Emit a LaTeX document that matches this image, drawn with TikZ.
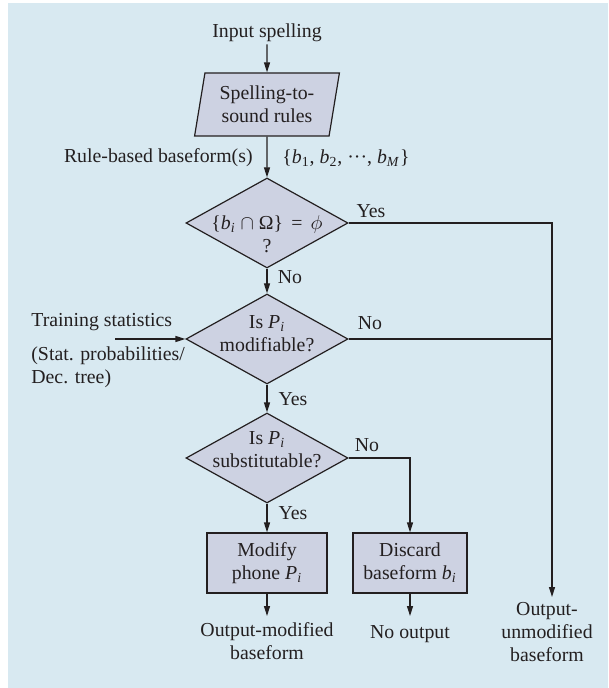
\documentclass[tikz,border=0pt]{standalone}
\usepackage{fontspec}
\setmainfont{Liberation Serif}
\usetikzlibrary{arrows.meta,positioning,shapes.geometric}
\definecolor{PaleBlue}{HTML}{D8E9F1}
\definecolor{Lavender}{HTML}{CDD2E2}
\definecolor{InkGray}{HTML}{231F20}
\newcommand{\vsub}[2]{\textit{#1}\textsubscript{#2}}
\newcommand{\intext}[2]{\makebox[0pt]{\raisebox{#1}[0pt][0pt]{\begin{tabular}{@{}c@{}}#2\end{tabular}}}}
\tikzset{
  io/.style={trapezium, trapezium left angle=78, trapezium right angle=102, trapezium stretches=true, draw=InkGray, fill=Lavender, line width=0.6pt, minimum width=72.5pt, minimum height=31.5pt, inner sep=0pt, align=center},
  decision/.style={diamond, draw=InkGray, fill=Lavender, line width=0.6pt, minimum width=81pt, minimum height=45pt, inner sep=0pt},
  procbox/.style={rectangle, draw=InkGray, fill=Lavender, line width=0.6pt, minimum height=30pt, inner sep=0pt, align=center},
  lbl/.style={inner sep=1pt, align=center},
  arrow/.style={-{Triangle[length=5pt,width=3pt]}, line width=0.6pt, draw=InkGray},
  line/.style={line width=0.6pt, draw=InkGray}
}
\begin{document}
\begin{tikzpicture}[
    x=0.5pt, y=-0.5pt,
    font=\fontsize{9.9}{11.6}\selectfont,
    text=InkGray
]
\useasboundingbox (0,0) rectangle (608,688);
\fill[PaleBlue] (8,3) rectangle (608,688);

% main column
\node[lbl] (inp) at (267,33) {Input spelling};
\node[io] (rules) at (267,104.5) {Spelling-to-\\sound rules};
\node[decision] (d1) at (267,223)
    {\intext{-9pt}{\{\vsub{b}{\textit{i}} $\cap$ Ω\}\ \,=\ \,$\phi$\\?}};
\node[decision] (d2) at (267,339)
    {\intext{-0.75pt}{Is \vsub{P}{\textit{i}}\\modifiable?}};
\node[decision] (d3) at (267,458)
    {\intext{0.75pt}{Is \vsub{P}{\textit{i}}\\substitutable?}};
\node[procbox, minimum width=60pt] (modify) at (267,563)
    {Modify\\phone \vsub{P}{\textit{i}}};
\node[procbox, minimum width=57pt] (discard) at (410,563)
    {Discard\\baseform \vsub{b}{\textit{i}}};

% side texts
\node[lbl, anchor=east] (rbase) at (255,158) {Rule-based baseform(s)};
\node[lbl, anchor=west] (bset) at (280,158)
    {\{\vsub{b}{1}, \vsub{b}{2}, ···, \vsub{b}{\textit{M}}\}};
\node[lbl, anchor=west] (train) at (29,322) {Training statistics};
\node[lbl, anchor=west, align=left] (stat) at (29,367)
    {(Stat. probabilities/\\Dec. tree)};

% branch labels
\node[lbl] (yes1) at (371,211) {Yes};
\node[lbl] (no1) at (290,277) {No};
\node[lbl] (no2) at (370,323) {No};
\node[lbl] (yes2) at (293,399) {Yes};
\node[lbl] (no3) at (367,445) {No};
\node[lbl] (yes3) at (293,513) {Yes};

% outputs
\node[lbl, anchor=north, inner ysep=3.2pt] (outmod) at (267,616)
    {Output-modified\\baseform};
\node[lbl, anchor=north, inner ysep=4.75pt] (noout) at (410,616) {No output};
\node[lbl, anchor=north, inner ysep=2.25pt] (outun) at (547,597)
    {Output-\\unmodified\\baseform};

\coordinate (trainin) at (115,339);
\coordinate (rt) at (552,223);

\draw[arrow] (inp) -- (rules);
\draw[arrow] (rules) -- (d1);
\draw[arrow] (d1) -- (d2);
\draw[arrow] (d2) -- (d3);
\draw[arrow] (d3) -- (modify);
\draw[arrow] (d3.east) -| (discard);
\draw[arrow] (modify) -- (outmod);
\draw[arrow] (discard) -- (noout);
\draw[arrow] (trainin) -- (d2.west);
\draw[arrow] (d1.east) -- (rt) -- (rt |- outun.north);
\draw[line] (d2.east) -- (d2.east -| rt);
\end{tikzpicture}
\end{document}
